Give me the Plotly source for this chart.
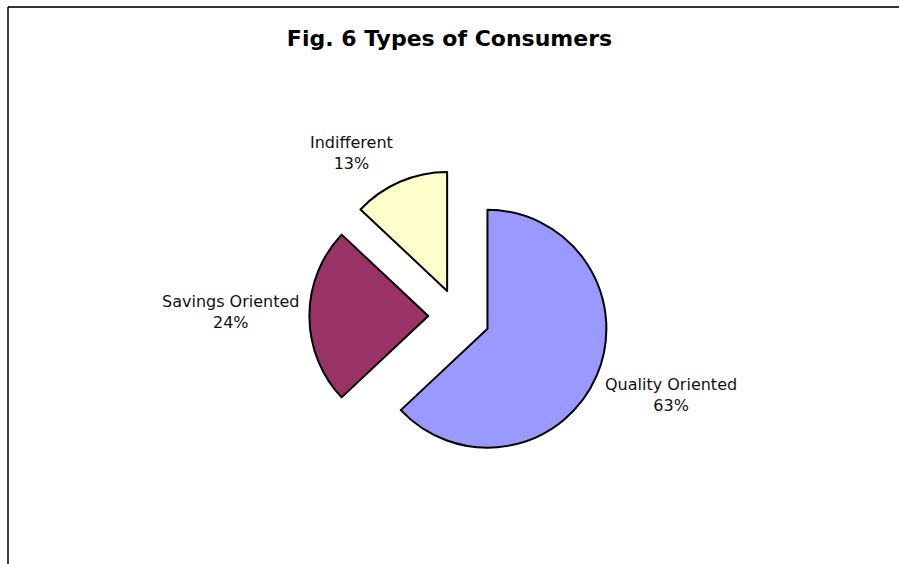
import plotly.graph_objects as go

# Consumer type shares (percent)
categories = ["Quality Oriented", "Savings Oriented", "Indifferent"]
shares = [63, 24, 13]
slice_colors = ["#9999FF", "#993366", "#FFFFCC"]
explode = [0.27, 0.25, 0.23]

# label anchor points in pixels (x, y from top)
label_pos = {
    "Quality Oriented": (671, 395),
    "Savings Oriented": (230, 312),
    "Indifferent": (351, 153),
}

W, H = 899, 564
FONT = "Verdana, DejaVu Sans, sans-serif"

fig = go.Figure(
    go.Pie(
        labels=categories,
        values=shares,
        sort=False,
        direction="clockwise",
        rotation=0,
        pull=explode,
        textinfo="none",
        hoverinfo="label+percent",
        marker=dict(colors=slice_colors, line=dict(color="#000000", width=2)),
        domain=dict(x=[307 / W, 609 / W], y=[97 / H, 399 / H]),
        showlegend=False,
    )
)

total = sum(shares)
annotations = []
for name, val in zip(categories, shares):
    px, py = label_pos[name]
    annotations.append(
        dict(
            x=px / W,
            y=1 - py / H,
            xref="paper",
            yref="paper",
            xanchor="center",
            yanchor="middle",
            showarrow=False,
            align="center",
            text=f"{name}<br>{round(val / total * 100)}%",
            font=dict(family=FONT, size=16, color="#111111"),
        )
    )

# chart frame edges
shapes = [
    dict(type="line", xref="paper", yref="paper",
         x0=8 / W, x1=1.0, y0=1 - 7 / H, y1=1 - 7 / H,
         line=dict(color="#333333", width=2)),
    dict(type="line", xref="paper", yref="paper",
         x0=8 / W, x1=8 / W, y0=0, y1=1 - 7 / H,
         line=dict(color="#000000", width=1.5)),
]

fig.update_layout(
    width=W,
    height=H,
    margin=dict(l=0, r=0, t=0, b=0),
    paper_bgcolor="#FFFFFF",
    plot_bgcolor="#FFFFFF",
    title=dict(
        text="<b>Fig. 6 Types of Consumers</b>",
        x=0.5,
        xanchor="center",
        y=1 - 38 / H,
        yanchor="middle",
        yref="container",
        font=dict(family=FONT, size=22, color="#000000"),
    ),
    annotations=annotations,
    shapes=shapes,
)

fig.write_html("out.html")
